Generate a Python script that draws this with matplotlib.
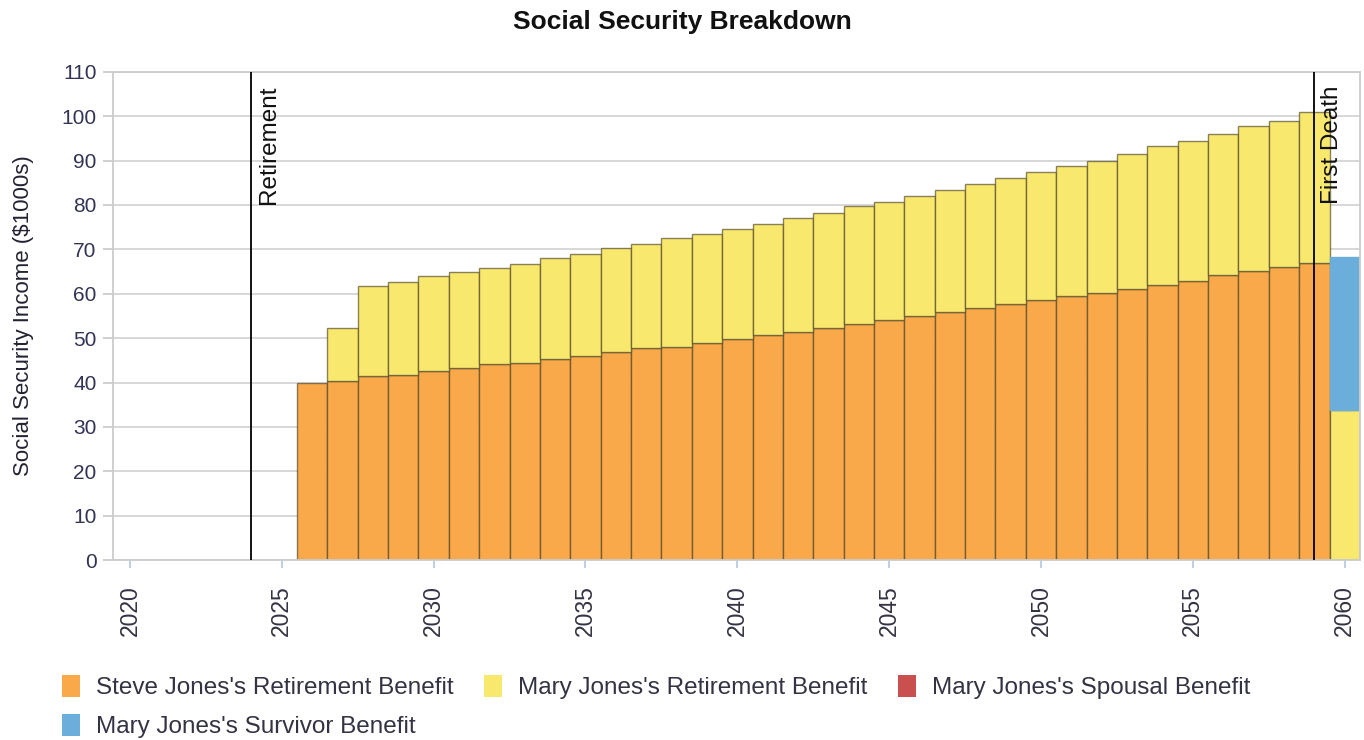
import matplotlib
matplotlib.use('Agg')
import matplotlib.pyplot as plt
from matplotlib.patches import Patch

plt.rcParams['font.family'] = ['Liberation Sans', 'DejaVu Sans']

years = list(range(2026, 2061))
# $1000s
steve_ret = [40.0, 40.4, 41.4, 41.7, 42.7, 43.2, 44.1, 44.5, 45.4, 45.9,
             46.8, 47.7, 48.1, 49.0, 49.9, 50.8, 51.3, 52.2, 53.1, 54.0,
             54.9, 55.8, 56.7, 57.6, 58.5, 59.4, 60.2, 61.1, 62.0, 62.9,
             64.3, 65.2, 66.1, 67.0, 0.0]
mary_ret = [0.0, 11.8, 20.3, 20.9, 21.2, 21.6, 21.6, 22.1, 22.6, 23.0,
            23.4, 23.4, 24.4, 24.5, 24.8, 24.9, 25.7, 26.1, 26.6, 26.6,
            27.1, 27.5, 28.0, 28.4, 28.9, 29.3, 29.8, 30.3, 31.2, 31.6,
            31.6, 32.5, 32.9, 33.9, 33.9]
mary_spousal = [0.0] * 35
mary_survivor = [0.0] * 34 + [34.4]

events = ['Retirement', 'First Death']
event_years = [2024, 2059]

labels = ["Steve Jones's Retirement Benefit", "Mary Jones's Retirement Benefit",
          "Mary Jones's Spousal Benefit", "Mary Jones's Survivor Benefit"]
colors = ['#F9A94A', '#F8E96E', '#C9504E', '#6BAEDB']

fig = plt.figure(figsize=(13.64, 7.4), dpi=100)
ax = fig.add_axes([0.083, 0.243, 0.914, 0.66])

edge = (0.3, 0.26, 0.15, 0.65)
bottom = [0.0] * len(years)
for vals, c in zip([steve_ret, mary_ret, mary_spousal, mary_survivor], colors):
    # skip empty segments so they don't leave edge lines
    xs = [y for y, v in zip(years, vals) if v > 0]
    hs = [v for v in vals if v > 0]
    bs = [b for b, v in zip(bottom, vals) if v > 0]
    if xs:
        ec = edge if c != '#6BAEDB' else '#6BAEDB'
        ax.bar(xs, hs, width=1.0, bottom=bs, color=c, edgecolor=ec,
               linewidth=1.0, zorder=2)
    bottom = [b + v for b, v in zip(bottom, vals)]

for name, yr in zip(events, event_years):
    ax.axvline(yr, color='black', linewidth=1.3, zorder=3)
    ax.text(yr + 0.22, 107, name, rotation=90, ha='left', va='top',
            fontsize=17.5, color='#111111', zorder=4)

ax.set_xlim(2019.45, 2060.5)
ax.set_ylim(0, 110)
ax.set_yticks(range(0, 111, 10))
ax.set_xticks(range(2020, 2061, 5))
ax.grid(axis='y', color='#d4d4d4', linewidth=1.3, zorder=0)
ax.set_axisbelow(True)
for s in ax.spines.values():
    s.set_color('#cccccc')
    s.set_linewidth(1.3)

ax.tick_params(axis='y', length=7, color='#cccccc', width=1.3, labelsize=15,
               labelcolor='#333355', pad=5)
ax.tick_params(axis='x', length=6, color='#b8cde6', width=1.3, labelsize=16.5,
               labelcolor='#333344', pad=12, labelrotation=90)
ax.set_ylabel('Social Security Income ($1000s)', fontsize=16, color='#222233',
              labelpad=20)

fig.suptitle('Social Security Breakdown', fontsize=19, fontweight='bold',
             color='#111111', y=0.986)

handles = [Patch(facecolor=c, edgecolor='none') for c in colors]
order = [0, 3, 1, 2]
fig.legend([handles[i] for i in order], [labels[i] for i in order], ncol=3,
           loc='upper left', bbox_to_anchor=(0.0295, 0.118), frameon=False,
           fontsize=17.5, handlelength=0.75, handleheight=1.05, handletextpad=0.65,
           columnspacing=1.25, labelspacing=0.6, labelcolor='#333344')

fig.savefig('out.png', dpi=100)
